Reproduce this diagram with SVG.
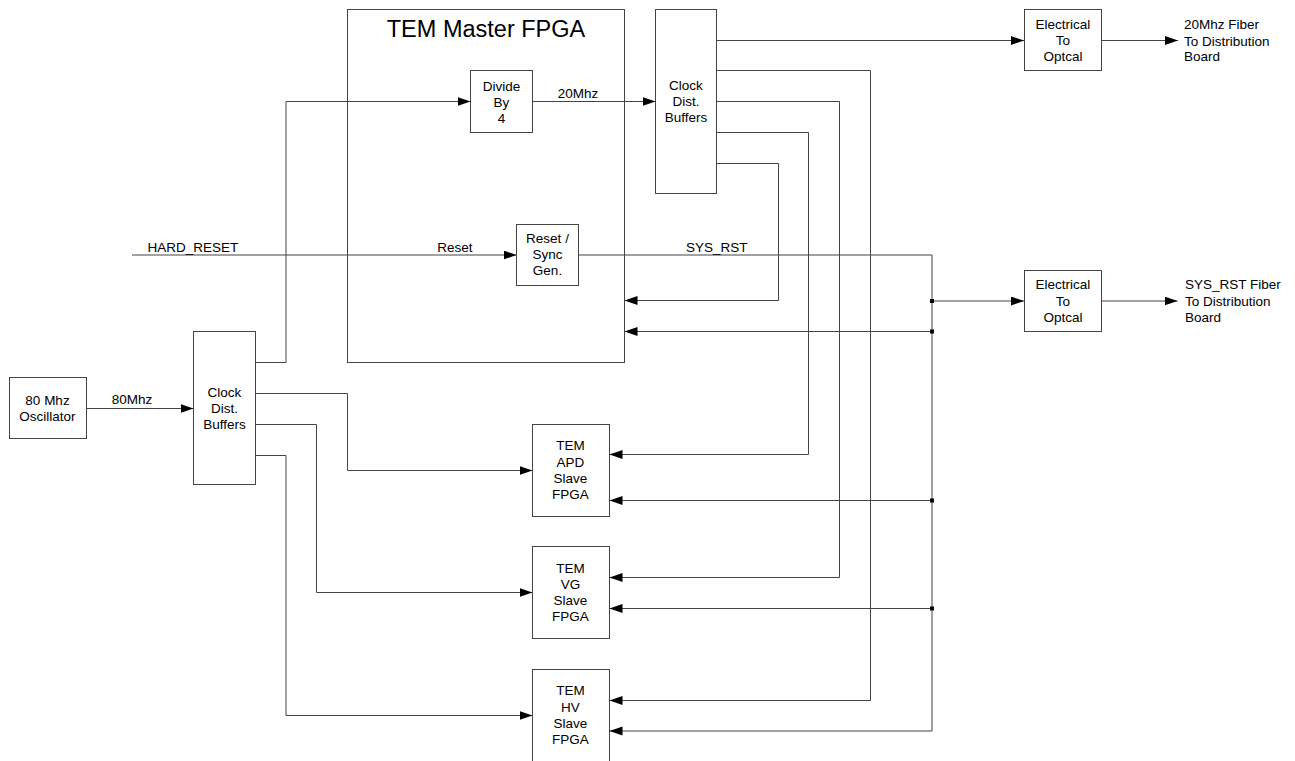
<svg xmlns="http://www.w3.org/2000/svg" width="1295" height="761" viewBox="0 0 1295 761">
<style>
text{font-family:"Liberation Sans",Arial,sans-serif;font-size:13.5px;fill:#000}
.c{text-anchor:middle}
.box{fill:#fff;stroke:#444;stroke-width:1}
.w{fill:none;stroke:#444;stroke-width:1}
.a{marker-end:url(#ah)}
.t{font-size:23.5px}
</style>
<defs>
<marker id="ah" markerUnits="userSpaceOnUse" markerWidth="14" markerHeight="10" refX="13" refY="4.5" orient="auto">
<path d="M0,0 L13,4.5 L0,9 z" fill="#000"/>
</marker>
</defs>
<g id="master"><rect class="box" x="347.5" y="9.5" width="277" height="353"/><text class="c t" x="486" y="37">TEM Master FPGA</text></g>
<g id="connectors">
<path class="w a" d="M86,408.5 H193.5"/>
<path class="w a" d="M255.5,362.5 H286 V101.5 H470.5"/>
<path class="w a" d="M532.5,101.5 H655.5"/>
<path class="w a" d="M255.5,393.5 H347.5 V470.5 H532.5"/>
<path class="w a" d="M255.5,424.5 H316.5 V592.5 H532.5"/>
<path class="w a" d="M255.5,455.5 H286 V715.5 H532.5"/>
<path class="w a" d="M132,255 H516.5"/>
<path class="w a" d="M578.5,255 H932 V731 H609.5"/>
<path class="w a" d="M716.5,40.5 H1024"/>
<path class="w a" d="M1101.5,40.5 H1178"/>
<path class="w a" d="M716.5,70.5 H870.5 V700.5 H609.5"/>
<path class="w a" d="M716.5,101.5 H839.5 V577.5 H609.5"/>
<path class="w a" d="M716.5,132.5 H808.5 V454.5 H609.5"/>
<path class="w a" d="M716.5,163.5 H778.5 V300.5 H624.5"/>
<path class="w a" d="M932,301 H1024"/>
<path class="w a" d="M1101.5,301 H1177.5"/>
<path class="w a" d="M932,331.5 H624.5"/>
<path class="w a" d="M932,500.5 H609.5"/>
<path class="w a" d="M932,608.5 H609.5"/>
<rect x="930" y="299" width="4" height="4"/>
<rect x="930" y="329.5" width="4" height="4"/>
<rect x="930" y="498.5" width="4" height="4"/>
<rect x="930" y="606.5" width="4" height="4"/>
<text x="147.5" y="252">HARD_RESET</text>
<text class="c" x="455" y="252">Reset</text>
<text class="c" x="578" y="97.5">20Mhz</text>
<text x="747.5" y="251.5" text-anchor="end">SYS_RST</text>
<text class="c" x="132" y="404">80Mhz</text>
<text x="1184" y="28.5">20Mhz Fiber</text>
<text x="1184" y="45.5">To Distribution</text>
<text x="1184" y="61">Board</text>
<text x="1185" y="288.5">SYS_RST Fiber</text>
<text x="1185" y="305.5">To Distribution</text>
<text x="1185" y="321.5">Board</text>
</g>
<g id="divide"><rect class="box" x="470.5" y="70.5" width="62" height="62"/><text class="c" x="501.5" y="90.5">Divide</text><text class="c" x="501.5" y="106.5">By</text><text class="c" x="501.5" y="122.5">4</text></g>
<g id="clkbuf-top"><rect class="box" x="655.5" y="9.5" width="61" height="184"/><text class="c" x="686" y="90">Clock</text><text class="c" x="686" y="106">Dist.</text><text class="c" x="686" y="121.5">Buffers</text></g>
<g id="e2o-1"><rect class="box" x="1024.5" y="9.5" width="77" height="61"/><text class="c" x="1063" y="28.5">Electrical</text><text class="c" x="1063" y="45">To</text><text class="c" x="1063" y="61">Optcal</text></g>
<g id="resetgen"><rect class="box" x="516.5" y="224.5" width="62" height="61"/><text class="c" x="547.5" y="243">Reset /</text><text class="c" x="547.5" y="259">Sync</text><text class="c" x="547.5" y="275">Gen.</text></g>
<g id="e2o-2"><rect class="box" x="1024.5" y="270.5" width="77" height="61"/><text class="c" x="1063" y="288.5">Electrical</text><text class="c" x="1063" y="305.5">To</text><text class="c" x="1063" y="321.5">Optcal</text></g>
<g id="osc"><rect class="box" x="9.5" y="377.5" width="77" height="61"/><text class="c" x="47.5" y="404.5">80 Mhz</text><text class="c" x="47.5" y="420.5">Oscillator</text></g>
<g id="clkbuf-left"><rect class="box" x="193.5" y="331.5" width="62" height="153"/><text class="c" x="224.5" y="396.5">Clock</text><text class="c" x="224.5" y="412.5">Dist.</text><text class="c" x="224.5" y="428.5">Buffers</text></g>
<g id="apd"><rect class="box" x="532.5" y="424.5" width="77" height="92"/><text class="c" x="570.5" y="450">TEM</text><text class="c" x="570.5" y="466.5">APD</text><text class="c" x="570.5" y="483">Slave</text><text class="c" x="570.5" y="499">FPGA</text></g>
<g id="vg"><rect class="box" x="532.5" y="546.5" width="77" height="92"/><text class="c" x="570.5" y="572.5">TEM</text><text class="c" x="570.5" y="588.5">VG</text><text class="c" x="570.5" y="605">Slave</text><text class="c" x="570.5" y="621">FPGA</text></g>
<g id="hv"><rect class="box" x="532.5" y="669.5" width="77" height="100"/><text class="c" x="570.5" y="695">TEM</text><text class="c" x="570.5" y="711.5">HV</text><text class="c" x="570.5" y="728">Slave</text><text class="c" x="570.5" y="744">FPGA</text></g>
</svg>
